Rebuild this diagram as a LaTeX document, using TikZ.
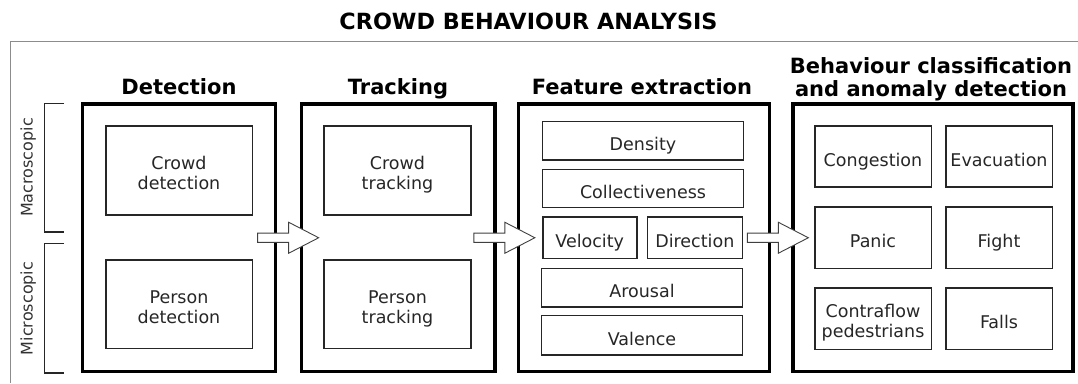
\documentclass[tikz,border=0pt]{standalone}
\usepackage{fontspec}
\setmainfont{DejaVu Sans}
\usetikzlibrary{calc}
\newcommand\istrut{\rule[-4.5pt]{0pt}{28.7pt}}
\newcommand\itop{\rule{0pt}{22.5pt}}
\newcommand\ibot{\rule[-4.5pt]{0pt}{4.5pt}}
\newcommand\blockarrow[1]{%
  \draw[barrow] ($(#1)+(-31,-4.65)$) -- ($(#1)+(0,-4.65)$) -- ($(#1)+(0,-15.5)$)
    -- ($(#1)+(30,0)$) -- ($(#1)+(0,15.5)$) -- ($(#1)+(0,4.65)$)
    -- ($(#1)+(-31,4.65)$) -- cycle;}
\begin{document}
\begin{tikzpicture}[x=1pt,y=-1pt,
  stage/.style={draw=black, line width=3.2pt, inner sep=0pt},
  itembase/.style={draw=black!85, line width=1.6pt, inner sep=0pt, align=center,
    text=black!85, font=\fontsize{17.5}{19.7}\selectfont},
  item/.style={itembase, execute at begin node=\istrut, execute at end node=\istrut},
  itemtwo/.style={itembase},
  head/.style={align=center, inner sep=0pt, font=\fontsize{21}{23.3}\selectfont\bfseries},
  side/.style={inner sep=0pt, rotate=90, text=black!80, font=\fontsize{16}{18}\selectfont},
  bracket/.style={draw=black!85, line width=1.2pt},
  frame/.style={draw=black!45, line width=1.2pt},
  barrow/.style={draw=black!75, fill=white, line width=0.9pt, line join=miter}]
\useasboundingbox (0,0) rectangle (1078,383);

% outer frame
\draw[frame] (10.5,383) -- (10.5,41.7) -- (1078,41.7);
\node[head, anchor=base, font=\fontsize{22.3}{24}\selectfont\bfseries] (title) at (528.5,29.3) {CROWD BEHAVIOUR ANALYSIS};

% side labels and brackets
\node[side] (macro) at (28.3,167.5) {Macroscopic};
\node[side] (micro) at (28.3,308.5) {Microscopic};
\draw[bracket] (64,103.3) -- (44.3,103.3) -- (44.3,232) -- (64,232);
\draw[bracket] (64,243.7) -- (44.3,243.7) -- (44.3,373) -- (64,373);

% stages
\node[stage, minimum width=193, minimum height=267.5] (det) at (179.2,237.75) {};
\node[stage, minimum width=193.3, minimum height=267.5] (trk) at (398.3,237.75) {};
\node[stage, minimum width=250.9, minimum height=267.5] (fea) at (644.2,237.75) {};
\node[stage, minimum width=280, minimum height=267.5] (beh) at (933,237.75) {};

\node[head, anchor=base] (hdet) at (179,94.3) {Detection};
\node[head, anchor=base] (htrk) at (398,94.3) {Tracking};
\node[head, anchor=base] (hfea) at (642,94.3) {Feature extraction};
\node[head] (hbeh) at (931,79) {Behaviour classification\\and anomaly detection};

% detection / tracking items
\node[itemtwo, minimum width=146.6, minimum height=89] (cdet) at (179,170.5) {\itop Crowd\\detection\ibot};
\node[itemtwo, minimum width=146.6, minimum height=88.3] (pdet) at (179,304.2) {\itop Person\\detection\ibot};
\node[itemtwo, minimum width=147, minimum height=89] (ctrk) at (397.5,170.5) {\itop Crowd\\tracking\ibot};
\node[itemtwo, minimum width=147, minimum height=88.3] (ptrk) at (397.5,304.2) {\itop Person\\tracking\ibot};

% feature items
\node[item, minimum width=201, minimum height=38.3] (dens) at (643,140.8) {Density};
\node[item, minimum width=201, minimum height=38.3] (coll) at (643,188.5) {Collectiveness};
\node[item, minimum width=94, minimum height=41.7] (velo) at (589.7,237.8) {Velocity};
\node[item, minimum width=95, minimum height=41.7] (dirn) at (694.8,237.8) {Direction};
\node[item, minimum width=201, minimum height=38.4] (arou) at (642,287.5) {Arousal};
\node[item, minimum width=201, minimum height=39.7] (vale) at (642,335.2) {Valence};

% behaviour items
\node[item, minimum width=116.6, minimum height=60.7] (cong) at (873,156.4) {Congestion};
\node[item, minimum width=106.6, minimum height=60.7] (evac) at (999,156.4) {Evacuation};
\node[item, minimum width=116.6, minimum height=61.6] (pani) at (873,237.5) {Panic};
\node[item, minimum width=106.6, minimum height=61.6] (figh) at (999,237.5) {Fight};
\node[itemtwo, minimum width=116.6, minimum height=61.6] (cont) at (873,318.5) {\itop Contraflow\\pedestrians\ibot};
\node[item, minimum width=106.6, minimum height=61.6] (fall) at (999,318.5) {Falls};

% block arrows between stages
\coordinate (a1) at ($(det.east)!0.5!(trk.west)$);
\coordinate (a2) at ($(trk.east)!0.5!(fea.west)+(-2,0)$);
\coordinate (a3) at ($(fea.east)!0.5!(beh.west)+(-3,0)$);
\blockarrow{a1}
\blockarrow{a2}
\blockarrow{a3}
\end{tikzpicture}
\end{document}
